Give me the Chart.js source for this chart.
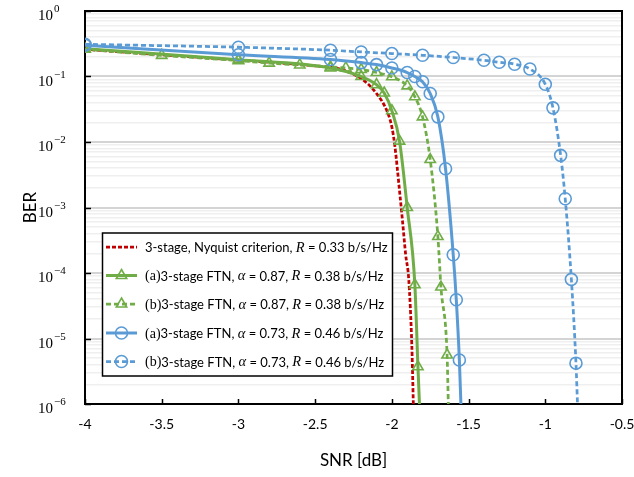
<!DOCTYPE html>
<html>
<head>
<meta charset="utf-8">
<script src="https://cdn.jsdelivr.net/npm/chart.js@4.4.0/dist/chart.umd.min.js"></script>
<style>
html, body { margin: 0; padding: 0; background: #fff; }
</style>
</head>
<body>
<canvas id="berChart" width="634" height="477"></canvas>
<script>
// SNR [dB] / BER readings per curve
var nyqSnr = [-4, -3.5, -3, -2.5, -2.35, -2.2, -2.1, -2.03, -2.0, -1.98, -1.95, -1.93, -1.91, -1.89, -1.87, -1.86];
var nyqBer = [0.26, 0.215, 0.178, 0.145, 0.132, 0.093, 0.055, 0.029, 0.017, 0.0085, 0.0018, 6e-4, 1.9e-4, 8e-5, 8e-6, 1e-6];

var ftn87aSnr = [-4, -3, -2.4, -2.2, -2.1, -2.05, -2.0, -1.95, -1.9, -1.85, -1.83, -1.82];
var ftn87aBer = [0.265, 0.18, 0.135, 0.1, 0.075, 0.056, 0.03, 0.0103, 1.0e-3, 6.6e-5, 3.7e-6, 1e-6];

var ftn87bSnr = [-4, -3.5, -3, -2.8, -2.6, -2.4, -2.3, -2.2, -2.1, -2.0, -1.9, -1.85, -1.8, -1.75, -1.7, -1.68, -1.64, -1.632];
var ftn87bBer = [0.26, 0.21, 0.175, 0.16, 0.15, 0.14, 0.135, 0.128, 0.115, 0.099, 0.072, 0.049, 0.0242, 0.0054, 3.6e-4, 6.1e-5, 5.6e-6, 1e-6];

var ftn73aSnr = [-4, -3, -2.4, -2.2, -2.1, -2.0, -1.9, -1.85, -1.8, -1.75, -1.7, -1.65, -1.6, -1.58, -1.56, -1.55];
var ftn73aBer = [0.30, 0.215, 0.182, 0.163, 0.152, 0.135, 0.115, 0.1, 0.083, 0.055, 0.0242, 0.0039, 1.9e-4, 3.9e-5, 4.7e-6, 1e-6];

var ftn73bSnr = [-4, -3, -2.4, -2.2, -2.0, -1.8, -1.6, -1.4, -1.3, -1.2, -1.1, -1.0, -0.95, -0.9, -0.87, -0.83, -0.8, -0.79];
var ftn73bBer = [0.31, 0.28, 0.252, 0.237, 0.224, 0.211, 0.195, 0.177, 0.165, 0.154, 0.13, 0.076, 0.0332, 0.00625, 0.00136, 8.0e-5, 4.2e-6, 1e-6];

var xTickValues = [-4, -3.5, -3, -2.5, -2, -1.5, -1, -0.5];
var decadeExps = [0, -1, -2, -3, -4, -5, -6];

var legendLabels = [
	[['3-stage, Nyquist criterion, ', 's'], ['R', 'i'], [' = 0.33 b/s/Hz', 's']],
	[['(a)', 'r'], ['3-stage FTN, ', 's'], ['\u03b1', 'i'], [' = 0.87, ', 's'], ['R', 'i'], [' = 0.38 b/s/Hz', 's']],
	[['(b)', 'r'], ['3-stage FTN, ', 's'], ['\u03b1', 'i'], [' = 0.87, ', 's'], ['R', 'i'], [' = 0.38 b/s/Hz', 's']],
	[['(a)', 'r'], ['3-stage FTN, ', 's'], ['\u03b1', 'i'], [' = 0.73, ', 's'], ['R', 'i'], [' = 0.46 b/s/Hz', 's']],
	[['(b)', 'r'], ['3-stage FTN, ', 's'], ['\u03b1', 'i'], [' = 0.73, ', 's'], ['R', 'i'], [' = 0.46 b/s/Hz', 's']]
];

var RED = '#C00000', GREEN = '#70AD47', BLUE = '#5B9BD5';

function pairs(xs, ys) {
	var out = [];
	for (var i = 0; i < xs.length; i++) out.push({x: xs[i], y: ys[i]});
	return out;
}

// minor + major gridline positions for the log axis
var yGridValues = [];
for (var e = -6; e <= 0; e++) {
	for (var m = 1; m <= 9; m++) {
		if (e === 0 && m > 1) break;
		yGridValues.push(m * Math.pow(10, e));
	}
}
function isDecade(v) {
	var l = Math.log10(v);
	return Math.abs(l - Math.round(l)) < 1e-9;
}

// no marker on the last point (where the curve hits the axis)
function markerRadius(ctx) {
	return ctx.dataIndex === ctx.dataset.data.length - 1 ? 0 : 6;
}

function series(label, xs, ys, color, dash, marker, order) {
	return {
		label: label,
		data: pairs(xs, ys),
		borderColor: color,
		borderWidth: dash ? 2.75 : 3,
		borderDash: dash || [],
		pointStyle: marker || 'circle',
		pointRadius: marker ? markerRadius : 0,
		pointBorderColor: color,
		pointBackgroundColor: 'rgba(255,255,255,0)',
		pointBorderWidth: 1.6,
		cubicInterpolationMode: 'monotone',
		order: order,
		_dash: dash || [],
		_marker: marker
	};
}

var datasets = [
	series('nyq', nyqSnr, nyqBer, RED, [4, 2], null, 5),
	series('87a', ftn87aSnr, ftn87aBer, GREEN, null, 'triangle', 4),
	series('87b', ftn87bSnr, ftn87bBer, GREEN, [5, 3], 'triangle', 3),
	series('73a', ftn73aSnr, ftn73aBer, BLUE, null, 'circle', 2),
	series('73b', ftn73bSnr, ftn73bBer, BLUE, [5, 3], 'circle', 1)
];

function drawMarker(ctx, style, x, y, r) {
	ctx.beginPath();
	if (style === 'triangle') {
		var h = r * Math.sqrt(3) / 2;
		ctx.moveTo(x, y - r);
		ctx.lineTo(x + h, y + r / 2);
		ctx.lineTo(x - h, y + r / 2);
		ctx.closePath();
	} else {
		ctx.arc(x, y, r, 0, Math.PI * 2);
	}
	ctx.stroke();
}

var fonts = {
	s: '13px Lato',
	r: '14px "Liberation Serif"',
	i: 'italic 14.5px "Liberation Serif"'
};

var framePlugin = {
	id: 'frame',
	beforeDatasetsDraw: function(chart) {
		var ctx = chart.ctx, a = chart.chartArea;
		var xs = chart.scales.x, ys = chart.scales.y;
		ctx.save();
		ctx.strokeStyle = '#000';
		ctx.lineWidth = 2;
		ctx.strokeRect(a.left, a.top, a.right - a.left, a.bottom - a.top);
		ctx.lineWidth = 1.5;
		ctx.beginPath();
		xTickValues.forEach(function(v) {
			var px = Math.round(xs.getPixelForValue(v)) + 0.5;
			ctx.moveTo(px, a.bottom);
			ctx.lineTo(px, a.bottom - 5);
		});
		decadeExps.forEach(function(k) {
			var py = Math.round(ys.getPixelForValue(Math.pow(10, k))) + 0.5;
			ctx.moveTo(a.left, py);
			ctx.lineTo(a.left + 6, py);
		});
		ctx.stroke();

		// 10^k labels
		ctx.fillStyle = '#000';
		ctx.textAlign = 'left';
		ctx.textBaseline = 'alphabetic';
		decadeExps.forEach(function(k) {
			var py = ys.getPixelForValue(Math.pow(10, k));
			ctx.font = '15px "Liberation Serif"';
			ctx.fillText('10', 38, py + 9);
			var w = ctx.measureText('10').width;
			ctx.font = '11px "Liberation Serif"';
			ctx.fillText(k === 0 ? '0' : '\u2212' + (-k), 38 + w + 1, py + 1);
		});
		ctx.restore();
	},
	afterDraw: function(chart) {
		var ctx = chart.ctx;
		var bx = 102.5, by = 233, bw = 290, bh = 143;
		var rowY = [247, 275.5, 304, 333, 361.5];
		ctx.save();
		ctx.fillStyle = '#fff';
		ctx.fillRect(bx, by, bw, bh);
		ctx.strokeStyle = '#000';
		ctx.lineWidth = 1.5;
		ctx.strokeRect(bx, by, bw, bh);

		datasets.forEach(function(ds, i) {
			var y = rowY[i];
			ctx.strokeStyle = ds.borderColor;
			ctx.lineWidth = ds.borderWidth;
			ctx.setLineDash(ds._dash);
			ctx.beginPath();
			ctx.moveTo(106, y);
			ctx.lineTo(137, y);
			ctx.stroke();
			ctx.setLineDash([]);
			if (ds._marker) {
				ctx.lineWidth = 1.6;
				drawMarker(ctx, ds._marker, 121.5, y, 6);
			}
			var tx = 145;
			ctx.fillStyle = '#000';
			ctx.textBaseline = 'middle';
			legendLabels[i].forEach(function(part) {
				ctx.font = fonts[part[1]];
				ctx.fillText(part[0], tx, y + 1);
				tx += ctx.measureText(part[0]).width;
			});
		});
		ctx.restore();
	}
};

var ctx1 = document.getElementById('berChart').getContext('2d');
window.berChart = new Chart(ctx1, {
	type: 'line',
	data: { datasets: datasets },
	options: {
		responsive: false,
		animation: false,
		layout: { padding: { top: 11, right: 12, left: 0, bottom: 0 } },
		plugins: {
			legend: { display: false },
			tooltip: { enabled: false }
		},
		scales: {
			x: {
				type: 'linear',
				min: -4,
				max: -0.5,
				afterBuildTicks: function(axis) {
					axis.ticks = xTickValues.map(function(v) { return {value: v}; });
				},
				afterFit: function(axis) {
					axis.height = 73;
					axis.paddingLeft = 0;
					axis.paddingRight = 0;
				},
				ticks: {
					font: { family: 'Lato', size: 14 },
					color: '#000',
					padding: 12,
					maxRotation: 0,
					autoSkip: false,
					callback: function(v) { return String(v); }
				},
				grid: { display: false, drawTicks: false },
				border: { display: false },
				title: {
					display: true,
					text: 'SNR [dB]',
					font: { family: 'Lato', size: 17 },
					color: '#000',
					padding: { top: 0, bottom: 6 }
				}
			},
			y: {
				type: 'logarithmic',
				min: 1e-6,
				max: 1,
				afterBuildTicks: function(axis) {
					axis.ticks = yGridValues.map(function(v) { return {value: v}; });
				},
				afterFit: function(axis) {
					axis.width = 85;
					axis.paddingTop = 0;
					axis.paddingBottom = 0;
				},
				ticks: { display: false, autoSkip: false },
				grid: {
					drawTicks: false,
					color: function(c) { return isDecade(c.tick.value) ? '#D4D4D4' : '#EFEFEF'; },
					lineWidth: function(c) { return isDecade(c.tick.value) ? 2 : 1.5; }
				},
				border: { display: false },
				title: {
					display: true,
					text: 'BER',
					font: { family: 'Lato', size: 17 },
					color: '#000',
					padding: { top: 20, bottom: 0 }
				}
			}
		}
	},
	plugins: [framePlugin]
});
</script>
</body>
</html>
